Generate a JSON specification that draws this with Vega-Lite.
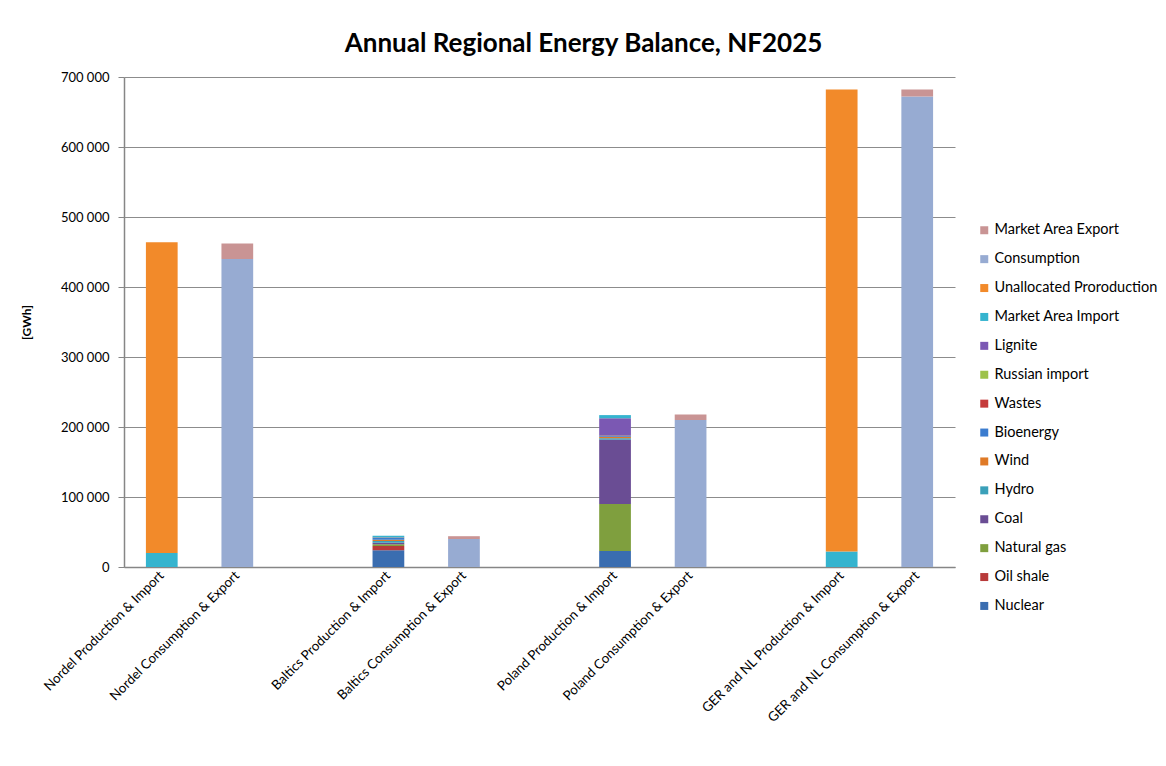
{
  "$schema": "https://vega.github.io/schema/vega-lite/v6.json",
  "width": 831,
  "height": 490,
  "autosize": {"type": "none"},
  "padding": {"left": 124, "top": 77, "right": 211, "bottom": 199},
  "background": "white",
  "config": {
    "font": "Lato",
    "view": {"stroke": null}
  },
  "title": {
    "text": "Annual Regional Energy Balance, NF2025",
    "fontSize": 26,
    "fontWeight": "bold",
    "font": "Lato",
    "color": "#000000",
    "anchor": "middle",
    "dx": 44,
    "offset": 14
  },
  "data": {
    "values": [
      {"cat": "Nordel Production & Import", "source": "Market Area Import", "value": 20000},
      {"cat": "Nordel Production & Import", "source": "Unallocated Proroduction", "value": 444000},
      {"cat": "Nordel Consumption & Export", "source": "Consumption", "value": 440000},
      {"cat": "Nordel Consumption & Export", "source": "Market Area Export", "value": 22000},
      {"cat": "Baltics Production & Import", "source": "Nuclear", "value": 24000},
      {"cat": "Baltics Production & Import", "source": "Oil shale", "value": 6000},
      {"cat": "Baltics Production & Import", "source": "Natural gas", "value": 2500},
      {"cat": "Baltics Production & Import", "source": "Coal", "value": 2000},
      {"cat": "Baltics Production & Import", "source": "Hydro", "value": 2500},
      {"cat": "Baltics Production & Import", "source": "Wind", "value": 2000},
      {"cat": "Baltics Production & Import", "source": "Bioenergy", "value": 2500},
      {"cat": "Baltics Production & Import", "source": "Wastes", "value": 500},
      {"cat": "Baltics Production & Import", "source": "Market Area Import", "value": 2500},
      {"cat": "Baltics Consumption & Export", "source": "Consumption", "value": 40000},
      {"cat": "Baltics Consumption & Export", "source": "Market Area Export", "value": 4000},
      {"cat": "Poland Production & Import", "source": "Nuclear", "value": 23000},
      {"cat": "Poland Production & Import", "source": "Natural gas", "value": 67000},
      {"cat": "Poland Production & Import", "source": "Coal", "value": 92000},
      {"cat": "Poland Production & Import", "source": "Hydro", "value": 2000},
      {"cat": "Poland Production & Import", "source": "Wind", "value": 2000},
      {"cat": "Poland Production & Import", "source": "Bioenergy", "value": 2000},
      {"cat": "Poland Production & Import", "source": "Wastes", "value": 500},
      {"cat": "Poland Production & Import", "source": "Lignite", "value": 24000},
      {"cat": "Poland Production & Import", "source": "Market Area Import", "value": 4500},
      {"cat": "Poland Consumption & Export", "source": "Consumption", "value": 210000},
      {"cat": "Poland Consumption & Export", "source": "Market Area Export", "value": 8000},
      {"cat": "GER and NL Production & Import", "source": "Market Area Import", "value": 22000},
      {"cat": "GER and NL Production & Import", "source": "Unallocated Proroduction", "value": 660000},
      {"cat": "GER and NL Consumption & Export", "source": "Consumption", "value": 672000},
      {"cat": "GER and NL Consumption & Export", "source": "Market Area Export", "value": 10000}
    ]
  },
  "transform": [
    {"calculate": "indexof(['Nuclear','Oil shale','Natural gas','Coal','Hydro','Wind','Bioenergy','Wastes','Russian import','Lignite','Market Area Import','Unallocated Proroduction','Consumption','Market Area Export'], datum.source)", "as": "stackOrder"}
  ],
  "mark": {"type": "bar"},
  "encoding": {
    "x": {
      "field": "cat",
      "type": "nominal",
      "scale": {
        "domain": ["Nordel Production & Import", "Nordel Consumption & Export", " ", "Baltics Production & Import", "Baltics Consumption & Export", "  ", "Poland Production & Import", "Poland Consumption & Export", "   ", "GER and NL Production & Import", "GER and NL Consumption & Export"],
        "paddingInner": 0.58,
        "paddingOuter": 0.29
      },
      "axis": {
        "title": null,
        "labelAngle": -45,
        "labelAlign": "right",
        "labelBaseline": "middle",
        "labelFontSize": 13.3,
        "labelColor": "#000000",
        "labelPadding": 6,
        "ticks": false,
        "domainColor": "#868686",
        "domainWidth": 1.5,
        "labelLimit": 300
      }
    },
    "y": {
      "field": "value",
      "type": "quantitative",
      "aggregate": "sum",
      "stack": "zero",
      "scale": {"domain": [0, 700000], "nice": false},
      "axis": {
        "title": "[GWh]",
        "titleFontSize": 12,
        "titleFontWeight": "bold",
        "titleColor": "#000000",
        "titlePadding": 27,
        "values": [0, 100000, 200000, 300000, 400000, 500000, 600000, 700000],
        "labelExpr": "replace(format(datum.value, ','), ',', ' ')",
        "labelFontSize": 13,
        "labelColor": "#000000",
        "labelPadding": 9,
        "grid": true,
        "gridColor": "#8c8c8c",
        "gridWidth": 1,
        "domainColor": "#868686",
        "domainWidth": 1.5,
        "tickColor": "#868686",
        "tickSize": 6
      }
    },
    "color": {
      "field": "source",
      "type": "nominal",
      "scale": {
        "domain": ["Market Area Export", "Consumption", "Unallocated Proroduction", "Market Area Import", "Lignite", "Russian import", "Wastes", "Bioenergy", "Wind", "Hydro", "Coal", "Natural gas", "Oil shale", "Nuclear"],
        "range": ["#c99494", "#97abd2", "#f28a2a", "#35b4cf", "#7b58b3", "#9dc24a", "#c53a3a", "#3b7ccf", "#df7a27", "#3aa0b9", "#6a4d94", "#7f9f3e", "#b83a3a", "#3a6db0"]
      },
      "legend": {
        "title": null,
        "orient": "none",
        "legendX": 853,
        "legendY": 146,
        "symbolType": "square",
        "symbolSize": 64,
        "symbolStrokeWidth": 0,
        "labelFontSize": 14.5,
        "labelColor": "#000000",
        "labelOffset": 3,
        "rowPadding": 13.9,
        "labelLimit": 300
      }
    },
    "order": {"field": "stackOrder", "type": "quantitative", "sort": "ascending"}
  }
}
